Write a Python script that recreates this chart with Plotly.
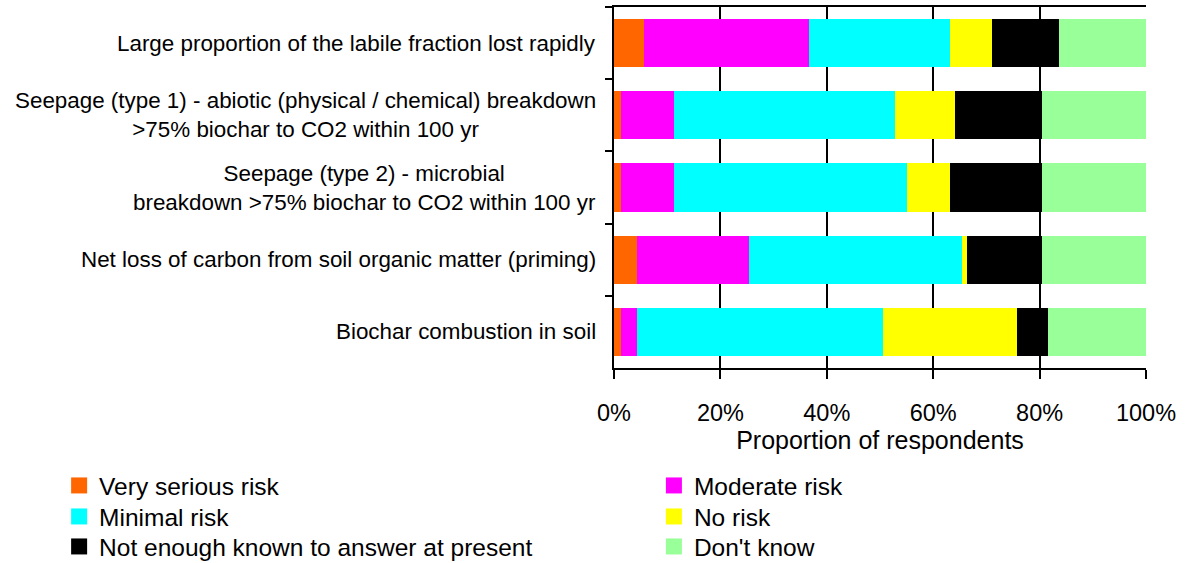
import plotly.graph_objects as go

# Survey items (top to bottom)
categories = [
    "Large proportion of the labile fraction lost rapidly",
    "Seepage (type 1) - abiotic (physical / chemical) breakdown<br>>75% biochar to CO2 within 100 yr",
    "Seepage (type 2) - microbial<br>breakdown >75% biochar to CO2 within 100 yr",
    "Net loss of carbon from soil organic matter (priming)",
    "Biochar combustion in soil",
]

# Share of respondents (%) per answer
very_serious = [5.7, 1.3, 1.3, 4.4, 1.3]
moderate = [30.9, 9.9, 9.9, 20.9, 3.1]
minimal = [26.5, 41.6, 43.9, 40.2, 46.1]
no_risk = [8.0, 11.3, 8.1, 0.9, 25.3]
not_enough = [12.6, 16.4, 17.3, 14.1, 5.7]
dont_know = [16.3, 19.5, 19.5, 19.5, 18.5]

answer_names = [
    "Very serious risk",
    "Moderate risk",
    "Minimal risk",
    "No risk",
    "Not enough known to answer at present",
    "Don't know",
]
answer_values = [very_serious, moderate, minimal, no_risk, not_enough, dont_know]
answer_colors = ["#FF6600", "#FF00FF", "#00FFFF", "#FFFF00", "#000000", "#99FF99"]

x_ticks = [0, 20, 40, 60, 80, 100]
x_tick_labels = ["0%", "20%", "40%", "60%", "80%", "100%"]

FONT = "Liberation Sans, Arial, Helvetica, sans-serif"

# Key laid out as a 2-column grid: one legend box per entry
legend_cols = [-1.043, 0.075]              # paper x of the two columns
legend_rows = [-0.2632, -0.3491, -0.4322]  # paper y (top) of the three rows

fig = go.Figure()

for name, vals, col in zip(answer_names, answer_values, answer_colors):
    fig.add_trace(go.Bar(
        x=vals, y=categories, orientation="h", name=name,
        marker=dict(color=col, line=dict(width=0)),
        showlegend=False,
    ))

legend_layout = {}
for i, (name, col) in enumerate(zip(answer_names, answer_colors)):
    key = "legend" if i == 0 else f"legend{i + 1}"
    fig.add_trace(go.Scatter(
        x=[None], y=[None], mode="markers", name=name,
        marker=dict(symbol="square", size=16, color=col, line=dict(width=0)),
        legend=key, showlegend=True,
    ))
    legend_layout[key] = dict(
        x=legend_cols[i % 2], y=legend_rows[i // 2],
        xanchor="left", yanchor="top", orientation="v",
        bgcolor="rgba(0,0,0,0)", borderwidth=0,
        font=dict(family=FONT, size=24.5, color="#000000"),
        itemsizing="trace",
    )

# Category labels: right-aligned block, centred lines
for cat in categories:
    fig.add_annotation(
        x=0, xref="paper", y=cat, yref="y",
        text=cat, showarrow=False,
        xanchor="right", yanchor="middle", align="center",
        xshift=-16,
        font=dict(family=FONT, size=22.4, color="#000000"),
    )

fig.update_layout(
    width=1187, height=563,
    barmode="stack", bargap=0.33,
    template="none",
    paper_bgcolor="white", plot_bgcolor="white",
    margin=dict(l=614, r=41, t=7, b=195, pad=0, autoexpand=False),
    font=dict(family=FONT, color="#000000"),
    **legend_layout,
)

fig.update_xaxes(
    range=[0, 100],
    tickmode="array", tickvals=x_ticks, ticktext=x_tick_labels,
    ticks="outside", ticklen=9, tickwidth=2, tickcolor="#000000",
    ticklabelstandoff=14,
    showline=True, linewidth=2, linecolor="#000000", mirror=True,
    showgrid=True, gridcolor="#000000", gridwidth=1.5,
    zeroline=False,
    tickfont=dict(family=FONT, size=23.5, color="#000000"),
    title=dict(text="Proportion of respondents", standoff=0,
               font=dict(family=FONT, size=25, color="#000000")),
    fixedrange=True,
)

fig.update_yaxes(
    type="category", categoryorder="array", categoryarray=categories,
    range=[4.5, -0.5],
    showticklabels=False,
    ticks="outside", tickson="boundaries", ticklen=7, tickwidth=2, tickcolor="#000000",
    showline=True, linewidth=2, linecolor="#000000",
    showgrid=False, zeroline=False,
    fixedrange=True,
)

fig.write_html("out.html")
